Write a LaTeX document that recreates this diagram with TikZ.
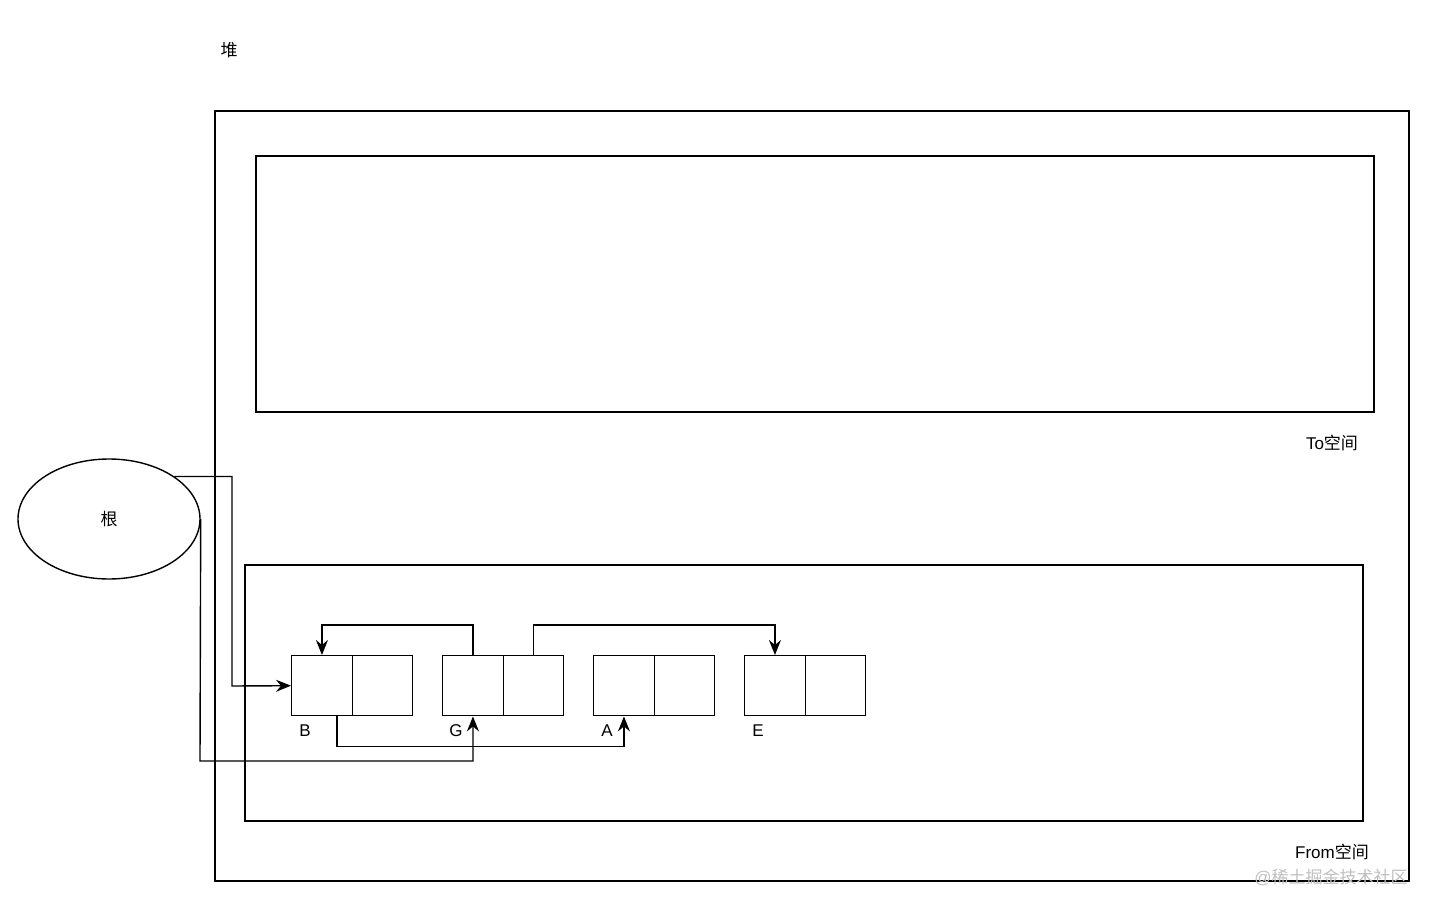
\documentclass[tikz,border=0pt]{standalone}
\usepackage{fontspec}
\setmainfont{Liberation Sans}
\newfontfamily\cjk{Noto Sans CJK SC}
\usetikzlibrary{shapes.geometric,arrows.meta,calc}
\tikzset{
  line/.style={draw=black,line width=1.4pt},
  cell/.style={line,minimum width=60.5pt,minimum height=60pt,inner sep=0pt,anchor=north west},
  arr/.style={line,-{Stealth[length=15pt,width=12pt,inset=5pt]}},
  lbl/.style={font=\fontsize{17}{19}\selectfont,inner sep=0pt},
  zone/.style={line}
}
\begin{document}
\begin{tikzpicture}[x=1pt,y=-1pt]
\useasboundingbox (0,0) rectangle (1436,912);
% heap
\draw[line] (215,111) rectangle (1409,881);
\node[lbl] (heaplbl) at (229,50) {\cjk 堆};
% To space
\draw[line] (256,156) rectangle (1374,412);
\node[lbl] (tolbl) at (1332,443) {To\cjk 空间};
% From space
\draw[line] (245,565) rectangle (1363,821);
\node[lbl] (fromlbl) at (1332,852) {From\cjk 空间};
% root
\node[line,ellipse,minimum width=182pt,minimum height=120pt,inner sep=0pt] (root) at (109,519) {\fontsize{17}{19}\selectfont\cjk 根};
% cells
\node[cell] (B1) at (291,655) {};
\node[cell] (B2) at (351.5,655) {};
\node[cell] (G1) at (442,655) {};
\node[cell] (G2) at (502.5,655) {};
\node[cell] (A1) at (593,655) {};
\node[cell] (A2) at (653.5,655) {};
\node[cell] (E1) at (744,655) {};
\node[cell] (E2) at (804.5,655) {};
\node[lbl] (Bl) at (305,731) {B};
\node[lbl] (Gl) at (456,731) {G};
\node[lbl] (Al) at (607,731) {A};
\node[lbl] (El) at (758,731) {E};
% connectors
\draw[arr] (root.33) -| (232,686) -- (B1.west);
\draw[arr] (root.east) -- (200,761) -| (G1.south);
\draw[arr] (G1.north) -- ++(0,-30) -| (B1.north);
\draw[arr] (G2.north) -- ++(0,-30) -| (E1.north);
\draw[arr] ($(B1.south)+(15,0)$) -- ++(0,30) -| (A1.south);
% watermark
\node[inner sep=0pt,text=black!25,font=\fontsize{17}{19}\selectfont] (wm) at (1331,877) {@\cjk 稀土掘金技术社区};
\end{tikzpicture}
\end{document}
